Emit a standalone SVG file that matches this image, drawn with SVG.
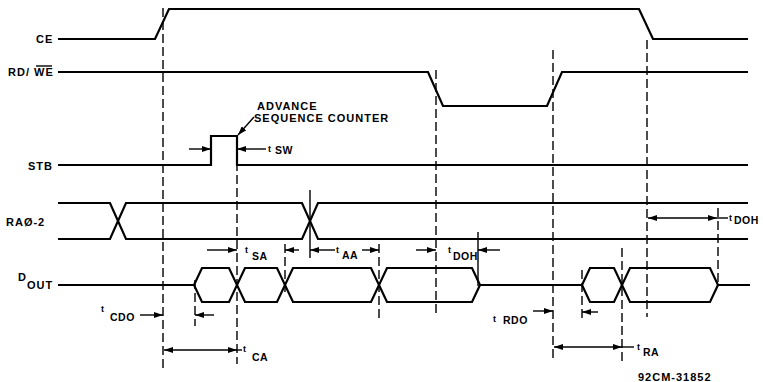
<svg xmlns="http://www.w3.org/2000/svg" width="763" height="382" viewBox="0 0 763 382">
<defs>
<marker id="ah" viewBox="0 0 9 6" refX="9" refY="3" markerWidth="9" markerHeight="6" markerUnits="userSpaceOnUse" orient="auto-start-reverse">
<path d="M0,0 L9,3 L0,6 z" fill="#000"/>
</marker>
<style>
.sig{fill:none;stroke:#000;stroke-width:2.2;stroke-linejoin:miter}
.dash{fill:none;stroke:#000;stroke-width:1.4;stroke-dasharray:9 4}
.tick{fill:none;stroke:#000;stroke-width:1.4}
.dim{fill:none;stroke:#000;stroke-width:1.4}
.lbl{font-family:"Liberation Sans",Arial,sans-serif;font-size:11px;font-weight:bold;letter-spacing:1px;fill:#000}
.t{font-family:"Liberation Sans",Arial,sans-serif;font-size:9px;font-weight:bold;fill:#000}
.sub{font-family:"Liberation Sans",Arial,sans-serif;font-size:10.5px;font-weight:bold;letter-spacing:0.5px;fill:#000}
</style>
</defs>
<rect width="763" height="382" fill="#fff"/>

<g id="CE">
<text class="lbl" x="36" y="43">CE</text>
<path class="sig" d="M58,39 H155 L169,9 H639 L653,39 H748"/>
</g>
<g id="RDWE">
<text class="lbl" x="8" y="76">RD/ WE</text>
<line x1="36" y1="66" x2="52" y2="66" stroke="#000" stroke-width="1.4"/>
<path class="sig" d="M58,72 H428 L443,106 H547 L562,72 H748"/>
</g>
<g id="STB">
<text class="lbl" x="28" y="170">STB</text>
<path class="sig" d="M58,165 H211 V136 H237 V165 H748"/>
</g>
<g id="RA02">
<text class="lbl" x="6" y="226">RAØ-2</text>
<path class="sig" d="M58,203 H110 L126,239 H302 L318,203 H748"/>
<path class="sig" d="M58,239 H110 L126,203 H302 L318,239 H748"/>
</g>
<g id="DOUT">
<text class="lbl" x="18" y="281">D</text>
<text class="lbl" x="27" y="289">OUT</text>
<path class="sig" d="M58,285 H194 M480,285 H582 M718,285 H750"/>
<path class="sig" d="M194,285 L202,268 H229 L245,302 H277 L293,268 H371 L387,302 H472 L480,285"/>
<path class="sig" d="M194,285 L202,302 H229 L245,268 H277 L293,302 H371 L387,268 H472 L480,285"/>
<path class="sig" d="M582,285 L590,268 H614 L630,302 H710 L718,285"/>
<path class="sig" d="M582,285 L590,302 H614 L630,268 H710 L718,285"/>
</g>

<g id="annotation">
<text class="lbl" x="257" y="110" letter-spacing="1.6">ADVANCE</text>
<text class="lbl" x="254" y="122" letter-spacing="1.4">SEQUENCE COUNTER</text>
<line class="dim" x1="254" y1="117" x2="238" y2="135" marker-end="url(#ah)"/>
</g>

<g id="connectors">
<line class="dash" x1="163" y1="8" x2="163" y2="368"/>
<line class="dash" x1="237" y1="136" x2="237" y2="364"/>
<line class="dash" x1="436" y1="70" x2="436" y2="313"/>
<line class="dash" x1="553" y1="50" x2="553" y2="360"/>
<line class="dash" x1="647" y1="40" x2="647" y2="317"/>
<line class="dash" x1="285" y1="244" x2="285" y2="296"/>
<line class="dash" x1="379" y1="244" x2="379" y2="318"/>
<line class="tick" x1="310" y1="190" x2="310" y2="258"/>
<line class="dash" x1="622" y1="248" x2="622" y2="362"/>
<line class="dash" x1="718" y1="208" x2="718" y2="282"/>
<line class="tick" x1="478" y1="232" x2="478" y2="286"/>
<line class="dash" x1="195" y1="280" x2="195" y2="326"/>
<line class="dash" x1="582" y1="270" x2="582" y2="320"/>

<!-- tSW -->
<line class="dim" x1="189" y1="149" x2="211" y2="149" marker-end="url(#ah)"/>
<line class="dim" x1="266" y1="149" x2="237" y2="149" marker-end="url(#ah)"/>
<!-- tSA -->
<line class="dim" x1="207" y1="250" x2="237" y2="250" marker-end="url(#ah)"/>
<line class="dim" x1="299" y1="250" x2="285" y2="250" marker-end="url(#ah)"/>
<!-- tAA -->
<line class="dim" x1="335" y1="250" x2="310" y2="250" marker-end="url(#ah)"/>
<line class="dim" x1="362" y1="250" x2="379" y2="250" marker-end="url(#ah)"/>
<!-- tDOH mid -->
<line class="dim" x1="416" y1="250" x2="436" y2="250" marker-end="url(#ah)"/>
<line class="dim" x1="500" y1="250" x2="478" y2="250" marker-end="url(#ah)"/>
<!-- tDOH right -->
<line class="dim" x1="648" y1="218" x2="717" y2="218" marker-start="url(#ah)" marker-end="url(#ah)"/>
<line class="dim" x1="717" y1="218" x2="728" y2="218"/>
<!-- tCDO -->
<line class="dim" x1="140" y1="315" x2="163" y2="315" marker-end="url(#ah)"/>
<line class="dim" x1="214" y1="315" x2="195" y2="315" marker-end="url(#ah)"/>
<!-- tCA -->
<line class="dim" x1="164" y1="350" x2="237" y2="350" marker-start="url(#ah)" marker-end="url(#ah)"/>
<line class="dim" x1="237" y1="350" x2="242" y2="350"/>
<!-- tRDO -->
<line class="dim" x1="533" y1="311" x2="553" y2="311" marker-end="url(#ah)"/>
<line class="dim" x1="598" y1="312" x2="582" y2="312" marker-end="url(#ah)"/>
<!-- tRA -->
<line class="dim" x1="554" y1="347" x2="622" y2="347" marker-start="url(#ah)" marker-end="url(#ah)"/>
<line class="dim" x1="622" y1="347" x2="634" y2="347"/>
</g>

<g id="timing-labels">
<text class="t" x="268" y="152">t</text><text class="sub" x="275" y="154">SW</text>
<text class="t" x="245" y="253">t</text><text class="sub" x="252" y="260">SA</text>
<text class="t" x="336" y="253">t</text><text class="sub" x="342" y="259">AA</text>
<text class="t" x="448" y="253">t</text><text class="sub" x="453" y="260">DOH</text>
<text class="t" x="729" y="221">t</text><text class="sub" x="734" y="224">DOH</text>
<text class="t" x="101" y="312">t</text><text class="sub" x="110" y="321">CDO</text>
<text class="t" x="243" y="352">t</text><text class="sub" x="252" y="361">CA</text>
<text class="t" x="493" y="322">t</text><text class="sub" x="503" y="324">RDO</text>
<text class="t" x="637" y="350">t</text><text class="sub" x="643" y="356">RA</text>
<text class="lbl" x="638" y="381" font-size="10.5" letter-spacing="0.8">92CM-31852</text>
</g>
</svg>
